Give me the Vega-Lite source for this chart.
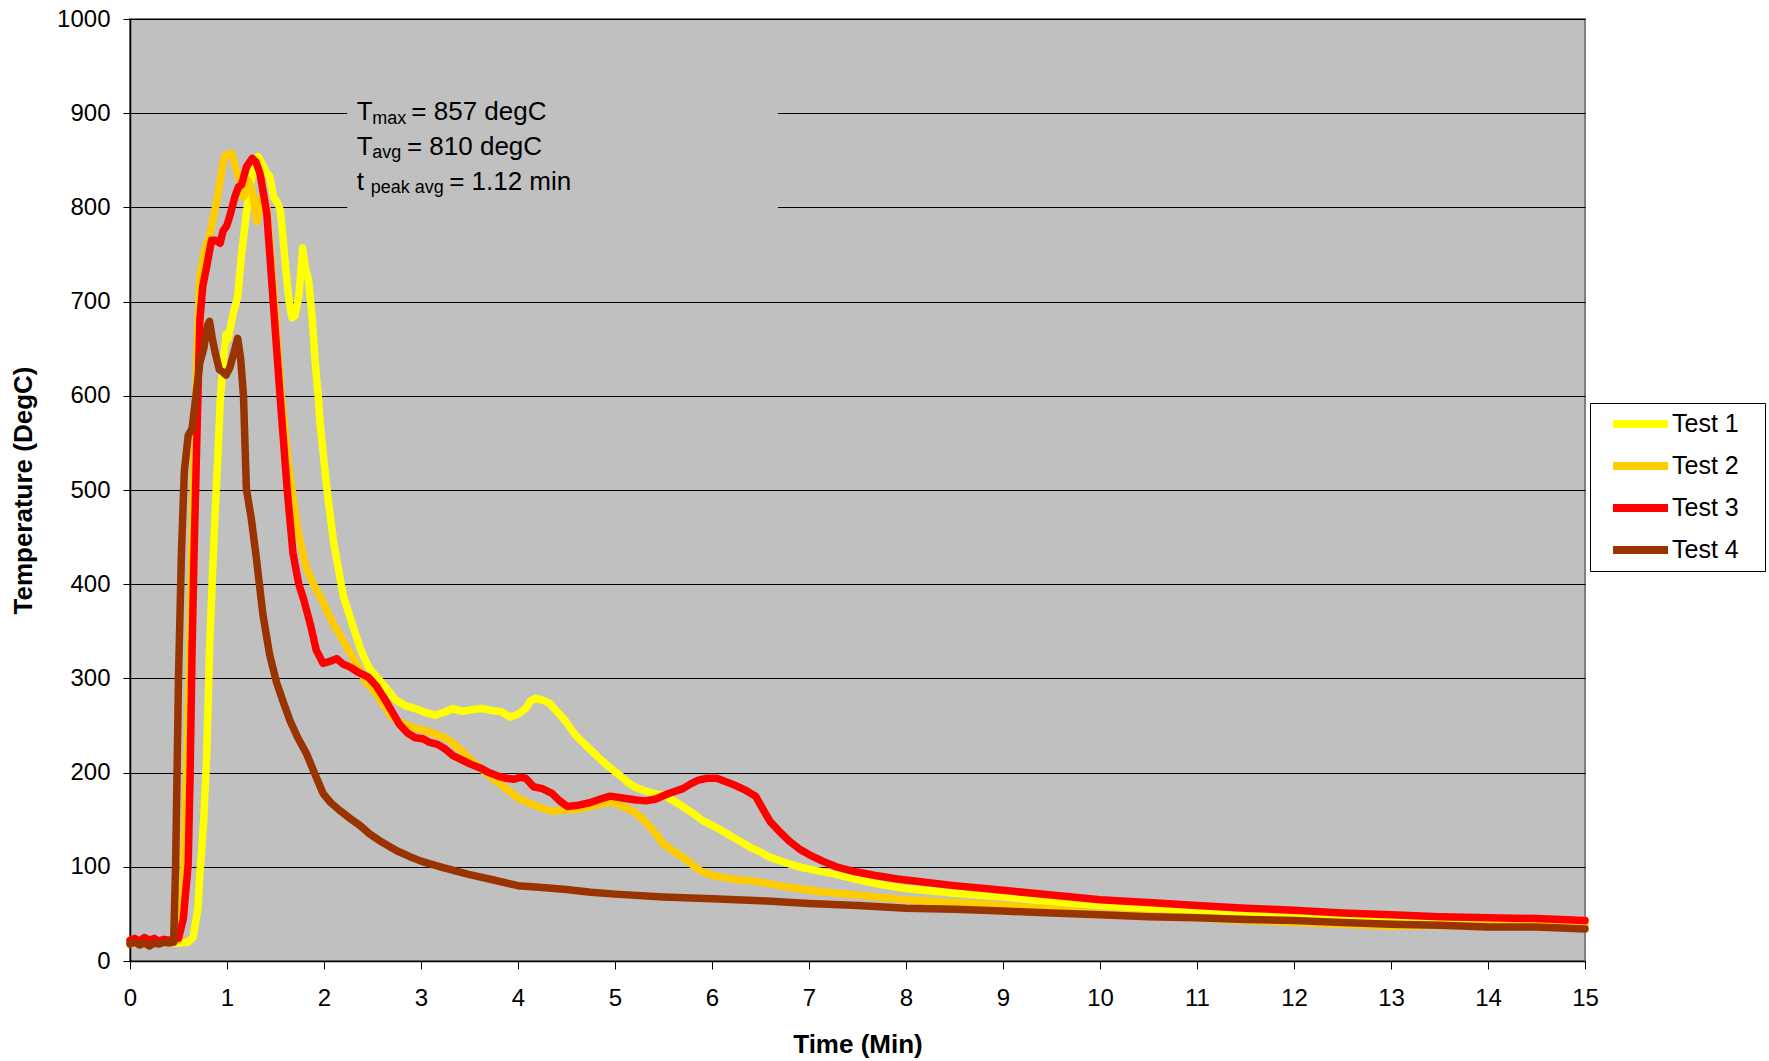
{
  "$schema": "https://vega.github.io/schema/vega-lite/v6.json",
  "width": 1455,
  "height": 942,
  "autosize": {"type": "none"},
  "padding": {"left": 130, "top": 19, "right": 184, "bottom": 100},
  "background": "white",
  "config": {
    "font": "Liberation Sans",
    "view": {"fill": "#C0C0C0", "stroke": "#808080", "strokeWidth": 2}
  },
  "datasets": {
    "temps": [
      {"test":"Test 1","t":0,"T":18},{"test":"Test 1","t":0.1,"T":19},{"test":"Test 1","t":0.2,"T":18},{"test":"Test 1","t":0.3,"T":20},{"test":"Test 1","t":0.4,"T":19},{"test":"Test 1","t":0.5,"T":19},{"test":"Test 1","t":0.6,"T":20},{"test":"Test 1","t":0.65,"T":25},{"test":"Test 1","t":0.7,"T":55},{"test":"Test 1","t":0.72,"T":91},{"test":"Test 1","t":0.76,"T":150},{"test":"Test 1","t":0.79,"T":216},{"test":"Test 1","t":0.82,"T":330},{"test":"Test 1","t":0.85,"T":410},{"test":"Test 1","t":0.88,"T":482},{"test":"Test 1","t":0.91,"T":545},{"test":"Test 1","t":0.93,"T":595},{"test":"Test 1","t":0.96,"T":635},{"test":"Test 1","t":0.99,"T":665},{"test":"Test 1","t":1.01,"T":660},{"test":"Test 1","t":1.03,"T":670},{"test":"Test 1","t":1.07,"T":690},{"test":"Test 1","t":1.11,"T":705},{"test":"Test 1","t":1.15,"T":750},{"test":"Test 1","t":1.2,"T":794},{"test":"Test 1","t":1.25,"T":830},{"test":"Test 1","t":1.32,"T":854},{"test":"Test 1","t":1.37,"T":845},{"test":"Test 1","t":1.41,"T":836},{"test":"Test 1","t":1.44,"T":833},{"test":"Test 1","t":1.48,"T":811},{"test":"Test 1","t":1.52,"T":805},{"test":"Test 1","t":1.55,"T":797},{"test":"Test 1","t":1.58,"T":765},{"test":"Test 1","t":1.6,"T":741},{"test":"Test 1","t":1.64,"T":700},{"test":"Test 1","t":1.67,"T":683},{"test":"Test 1","t":1.7,"T":685},{"test":"Test 1","t":1.74,"T":705},{"test":"Test 1","t":1.78,"T":757},{"test":"Test 1","t":1.81,"T":735},{"test":"Test 1","t":1.84,"T":723},{"test":"Test 1","t":1.88,"T":680},{"test":"Test 1","t":1.91,"T":635},{"test":"Test 1","t":1.94,"T":600},{"test":"Test 1","t":1.96,"T":571},{"test":"Test 1","t":2.0,"T":530},{"test":"Test 1","t":2.03,"T":501},{"test":"Test 1","t":2.1,"T":444},{"test":"Test 1","t":2.2,"T":387},{"test":"Test 1","t":2.3,"T":355},{"test":"Test 1","t":2.38,"T":330},{"test":"Test 1","t":2.46,"T":312},{"test":"Test 1","t":2.54,"T":302},{"test":"Test 1","t":2.64,"T":290},{"test":"Test 1","t":2.74,"T":277},{"test":"Test 1","t":2.84,"T":271},{"test":"Test 1","t":2.94,"T":268},{"test":"Test 1","t":3.04,"T":264},{"test":"Test 1","t":3.14,"T":261},{"test":"Test 1","t":3.24,"T":264},{"test":"Test 1","t":3.33,"T":268},{"test":"Test 1","t":3.43,"T":265},{"test":"Test 1","t":3.53,"T":267},{"test":"Test 1","t":3.63,"T":268},{"test":"Test 1","t":3.72,"T":266},{"test":"Test 1","t":3.82,"T":265},{"test":"Test 1","t":3.92,"T":259},{"test":"Test 1","t":4.0,"T":262},{"test":"Test 1","t":4.08,"T":268},{"test":"Test 1","t":4.13,"T":276},{"test":"Test 1","t":4.18,"T":279},{"test":"Test 1","t":4.25,"T":277},{"test":"Test 1","t":4.32,"T":274},{"test":"Test 1","t":4.4,"T":265},{"test":"Test 1","t":4.48,"T":256},{"test":"Test 1","t":4.59,"T":240},{"test":"Test 1","t":4.75,"T":224},{"test":"Test 1","t":4.85,"T":214},{"test":"Test 1","t":4.95,"T":205},{"test":"Test 1","t":5.05,"T":197},{"test":"Test 1","t":5.14,"T":189},{"test":"Test 1","t":5.22,"T":184},{"test":"Test 1","t":5.3,"T":181},{"test":"Test 1","t":5.4,"T":178},{"test":"Test 1","t":5.5,"T":176},{"test":"Test 1","t":5.6,"T":170},{"test":"Test 1","t":5.7,"T":164},{"test":"Test 1","t":5.8,"T":157},{"test":"Test 1","t":5.89,"T":150},{"test":"Test 1","t":6.0,"T":144},{"test":"Test 1","t":6.09,"T":139},{"test":"Test 1","t":6.19,"T":133},{"test":"Test 1","t":6.29,"T":127},{"test":"Test 1","t":6.39,"T":121},{"test":"Test 1","t":6.49,"T":116},{"test":"Test 1","t":6.6,"T":110},{"test":"Test 1","t":6.77,"T":104},{"test":"Test 1","t":6.9,"T":100},{"test":"Test 1","t":7.08,"T":96},{"test":"Test 1","t":7.28,"T":92},{"test":"Test 1","t":7.47,"T":87},{"test":"Test 1","t":7.7,"T":82},{"test":"Test 1","t":8.0,"T":77},{"test":"Test 1","t":8.5,"T":72},{"test":"Test 1","t":9.0,"T":68},{"test":"Test 1","t":9.5,"T":63},{"test":"Test 1","t":10.0,"T":59},{"test":"Test 1","t":10.5,"T":56},{"test":"Test 1","t":11.0,"T":54},{"test":"Test 1","t":11.5,"T":52},{"test":"Test 1","t":12.0,"T":50},{"test":"Test 1","t":12.5,"T":48},{"test":"Test 1","t":13.0,"T":47},{"test":"Test 1","t":13.5,"T":46},{"test":"Test 1","t":14.0,"T":45},{"test":"Test 1","t":14.5,"T":44},{"test":"Test 1","t":15.0,"T":43},

      {"test":"Test 2","t":0,"T":20},{"test":"Test 2","t":0.1,"T":19},{"test":"Test 2","t":0.2,"T":20},{"test":"Test 2","t":0.3,"T":19},{"test":"Test 2","t":0.4,"T":20},{"test":"Test 2","t":0.5,"T":22},{"test":"Test 2","t":0.53,"T":40},{"test":"Test 2","t":0.56,"T":120},{"test":"Test 2","t":0.6,"T":260},{"test":"Test 2","t":0.63,"T":400},{"test":"Test 2","t":0.66,"T":530},{"test":"Test 2","t":0.69,"T":640},{"test":"Test 2","t":0.72,"T":726},{"test":"Test 2","t":0.77,"T":755},{"test":"Test 2","t":0.82,"T":769},{"test":"Test 2","t":0.86,"T":790},{"test":"Test 2","t":0.89,"T":804},{"test":"Test 2","t":0.93,"T":829},{"test":"Test 2","t":0.96,"T":848},{"test":"Test 2","t":0.98,"T":855},{"test":"Test 2","t":1.02,"T":857},{"test":"Test 2","t":1.05,"T":857},{"test":"Test 2","t":1.08,"T":845},{"test":"Test 2","t":1.12,"T":833},{"test":"Test 2","t":1.17,"T":811},{"test":"Test 2","t":1.2,"T":820},{"test":"Test 2","t":1.22,"T":829},{"test":"Test 2","t":1.25,"T":820},{"test":"Test 2","t":1.27,"T":811},{"test":"Test 2","t":1.31,"T":785},{"test":"Test 2","t":1.34,"T":805},{"test":"Test 2","t":1.37,"T":815},{"test":"Test 2","t":1.41,"T":800},{"test":"Test 2","t":1.46,"T":740},{"test":"Test 2","t":1.51,"T":670},{"test":"Test 2","t":1.56,"T":600},{"test":"Test 2","t":1.62,"T":539},{"test":"Test 2","t":1.67,"T":500},{"test":"Test 2","t":1.72,"T":463},{"test":"Test 2","t":1.77,"T":438},{"test":"Test 2","t":1.82,"T":417},{"test":"Test 2","t":1.89,"T":400},{"test":"Test 2","t":1.96,"T":387},{"test":"Test 2","t":2.03,"T":372},{"test":"Test 2","t":2.1,"T":357},{"test":"Test 2","t":2.15,"T":349},{"test":"Test 2","t":2.23,"T":334},{"test":"Test 2","t":2.34,"T":314},{"test":"Test 2","t":2.44,"T":295},{"test":"Test 2","t":2.5,"T":289},{"test":"Test 2","t":2.6,"T":274},{"test":"Test 2","t":2.7,"T":259},{"test":"Test 2","t":2.78,"T":254},{"test":"Test 2","t":2.86,"T":250},{"test":"Test 2","t":2.95,"T":247},{"test":"Test 2","t":3.09,"T":243},{"test":"Test 2","t":3.17,"T":240},{"test":"Test 2","t":3.25,"T":237},{"test":"Test 2","t":3.33,"T":231},{"test":"Test 2","t":3.41,"T":224},{"test":"Test 2","t":3.51,"T":214},{"test":"Test 2","t":3.61,"T":205},{"test":"Test 2","t":3.7,"T":197},{"test":"Test 2","t":3.8,"T":189},{"test":"Test 2","t":3.9,"T":181},{"test":"Test 2","t":4.0,"T":173},{"test":"Test 2","t":4.1,"T":168},{"test":"Test 2","t":4.2,"T":164},{"test":"Test 2","t":4.35,"T":159},{"test":"Test 2","t":4.47,"T":160},{"test":"Test 2","t":4.59,"T":161},{"test":"Test 2","t":4.71,"T":163},{"test":"Test 2","t":4.83,"T":166},{"test":"Test 2","t":4.92,"T":168},{"test":"Test 2","t":4.99,"T":168},{"test":"Test 2","t":5.08,"T":164},{"test":"Test 2","t":5.19,"T":159},{"test":"Test 2","t":5.26,"T":153},{"test":"Test 2","t":5.34,"T":145},{"test":"Test 2","t":5.42,"T":135},{"test":"Test 2","t":5.5,"T":124},{"test":"Test 2","t":5.6,"T":117},{"test":"Test 2","t":5.7,"T":110},{"test":"Test 2","t":5.8,"T":102},{"test":"Test 2","t":5.89,"T":95},{"test":"Test 2","t":6.0,"T":91},{"test":"Test 2","t":6.09,"T":89},{"test":"Test 2","t":6.29,"T":86},{"test":"Test 2","t":6.49,"T":84},{"test":"Test 2","t":6.69,"T":80},{"test":"Test 2","t":6.88,"T":77},{"test":"Test 2","t":7.08,"T":74},{"test":"Test 2","t":7.28,"T":72},{"test":"Test 2","t":7.5,"T":70},{"test":"Test 2","t":7.7,"T":68},{"test":"Test 2","t":8.0,"T":65},{"test":"Test 2","t":8.5,"T":62},{"test":"Test 2","t":9.0,"T":59},{"test":"Test 2","t":9.5,"T":55},{"test":"Test 2","t":10.0,"T":50},{"test":"Test 2","t":10.5,"T":48},{"test":"Test 2","t":11.0,"T":46},{"test":"Test 2","t":11.5,"T":43},{"test":"Test 2","t":12.0,"T":41},{"test":"Test 2","t":12.5,"T":39},{"test":"Test 2","t":13.0,"T":37},{"test":"Test 2","t":13.5,"T":38},{"test":"Test 2","t":14.0,"T":37},{"test":"Test 2","t":14.5,"T":38},{"test":"Test 2","t":15.0,"T":38},

      {"test":"Test 3","t":0,"T":22},{"test":"Test 3","t":0.05,"T":24},{"test":"Test 3","t":0.1,"T":21},{"test":"Test 3","t":0.15,"T":25},{"test":"Test 3","t":0.2,"T":22},{"test":"Test 3","t":0.25,"T":24},{"test":"Test 3","t":0.3,"T":21},{"test":"Test 3","t":0.35,"T":23},{"test":"Test 3","t":0.4,"T":22},{"test":"Test 3","t":0.45,"T":23},{"test":"Test 3","t":0.5,"T":24},{"test":"Test 3","t":0.55,"T":45},{"test":"Test 3","t":0.6,"T":103},{"test":"Test 3","t":0.62,"T":200},{"test":"Test 3","t":0.64,"T":330},{"test":"Test 3","t":0.66,"T":430},{"test":"Test 3","t":0.69,"T":558},{"test":"Test 3","t":0.72,"T":680},{"test":"Test 3","t":0.75,"T":716},{"test":"Test 3","t":0.79,"T":737},{"test":"Test 3","t":0.84,"T":765},{"test":"Test 3","t":0.88,"T":765},{"test":"Test 3","t":0.93,"T":762},{"test":"Test 3","t":0.96,"T":775},{"test":"Test 3","t":1.0,"T":781},{"test":"Test 3","t":1.04,"T":795},{"test":"Test 3","t":1.08,"T":811},{"test":"Test 3","t":1.12,"T":822},{"test":"Test 3","t":1.15,"T":824},{"test":"Test 3","t":1.2,"T":843},{"test":"Test 3","t":1.26,"T":852},{"test":"Test 3","t":1.3,"T":848},{"test":"Test 3","t":1.34,"T":836},{"test":"Test 3","t":1.41,"T":794},{"test":"Test 3","t":1.46,"T":723},{"test":"Test 3","t":1.51,"T":652},{"test":"Test 3","t":1.56,"T":582},{"test":"Test 3","t":1.62,"T":501},{"test":"Test 3","t":1.68,"T":433},{"test":"Test 3","t":1.74,"T":400},{"test":"Test 3","t":1.79,"T":384},{"test":"Test 3","t":1.86,"T":357},{"test":"Test 3","t":1.92,"T":330},{"test":"Test 3","t":1.99,"T":316},{"test":"Test 3","t":2.06,"T":318},{"test":"Test 3","t":2.13,"T":321},{"test":"Test 3","t":2.2,"T":315},{"test":"Test 3","t":2.27,"T":312},{"test":"Test 3","t":2.36,"T":306},{"test":"Test 3","t":2.46,"T":301},{"test":"Test 3","t":2.54,"T":292},{"test":"Test 3","t":2.62,"T":279},{"test":"Test 3","t":2.7,"T":265},{"test":"Test 3","t":2.78,"T":251},{"test":"Test 3","t":2.86,"T":242},{"test":"Test 3","t":2.94,"T":237},{"test":"Test 3","t":3.02,"T":236},{"test":"Test 3","t":3.09,"T":232},{"test":"Test 3","t":3.17,"T":230},{"test":"Test 3","t":3.25,"T":225},{"test":"Test 3","t":3.33,"T":218},{"test":"Test 3","t":3.41,"T":214},{"test":"Test 3","t":3.51,"T":209},{"test":"Test 3","t":3.61,"T":205},{"test":"Test 3","t":3.7,"T":200},{"test":"Test 3","t":3.8,"T":196},{"test":"Test 3","t":3.88,"T":194},{"test":"Test 3","t":3.96,"T":193},{"test":"Test 3","t":4.02,"T":195},{"test":"Test 3","t":4.08,"T":194},{"test":"Test 3","t":4.16,"T":185},{"test":"Test 3","t":4.25,"T":183},{"test":"Test 3","t":4.35,"T":178},{"test":"Test 3","t":4.43,"T":170},{"test":"Test 3","t":4.51,"T":164},{"test":"Test 3","t":4.6,"T":165},{"test":"Test 3","t":4.74,"T":168},{"test":"Test 3","t":4.85,"T":172},{"test":"Test 3","t":4.95,"T":175},{"test":"Test 3","t":5.08,"T":173},{"test":"Test 3","t":5.22,"T":171},{"test":"Test 3","t":5.32,"T":170},{"test":"Test 3","t":5.42,"T":172},{"test":"Test 3","t":5.56,"T":178},{"test":"Test 3","t":5.7,"T":183},{"test":"Test 3","t":5.78,"T":188},{"test":"Test 3","t":5.86,"T":192},{"test":"Test 3","t":5.95,"T":194},{"test":"Test 3","t":6.05,"T":194},{"test":"Test 3","t":6.15,"T":190},{"test":"Test 3","t":6.25,"T":186},{"test":"Test 3","t":6.35,"T":181},{"test":"Test 3","t":6.45,"T":175},{"test":"Test 3","t":6.52,"T":162},{"test":"Test 3","t":6.6,"T":148},{"test":"Test 3","t":6.7,"T":137},{"test":"Test 3","t":6.8,"T":127},{"test":"Test 3","t":6.9,"T":119},{"test":"Test 3","t":7.0,"T":113},{"test":"Test 3","t":7.14,"T":106},{"test":"Test 3","t":7.28,"T":100},{"test":"Test 3","t":7.47,"T":95},{"test":"Test 3","t":7.67,"T":91},{"test":"Test 3","t":7.91,"T":87},{"test":"Test 3","t":8.0,"T":86},{"test":"Test 3","t":8.5,"T":80},{"test":"Test 3","t":9.0,"T":75},{"test":"Test 3","t":9.5,"T":70},{"test":"Test 3","t":10.0,"T":65},{"test":"Test 3","t":10.5,"T":62},{"test":"Test 3","t":11.0,"T":59},{"test":"Test 3","t":11.5,"T":56},{"test":"Test 3","t":12.0,"T":54},{"test":"Test 3","t":12.5,"T":51},{"test":"Test 3","t":13.0,"T":49},{"test":"Test 3","t":13.5,"T":47},{"test":"Test 3","t":14.0,"T":46},{"test":"Test 3","t":14.5,"T":45},{"test":"Test 3","t":15.0,"T":43},

      {"test":"Test 4","t":0,"T":18},{"test":"Test 4","t":0.05,"T":20},{"test":"Test 4","t":0.1,"T":17},{"test":"Test 4","t":0.15,"T":19},{"test":"Test 4","t":0.2,"T":16},{"test":"Test 4","t":0.25,"T":19},{"test":"Test 4","t":0.3,"T":18},{"test":"Test 4","t":0.35,"T":20},{"test":"Test 4","t":0.4,"T":19},{"test":"Test 4","t":0.45,"T":20},{"test":"Test 4","t":0.47,"T":100},{"test":"Test 4","t":0.5,"T":300},{"test":"Test 4","t":0.53,"T":432},{"test":"Test 4","t":0.56,"T":520},{"test":"Test 4","t":0.6,"T":558},{"test":"Test 4","t":0.64,"T":565},{"test":"Test 4","t":0.68,"T":600},{"test":"Test 4","t":0.72,"T":635},{"test":"Test 4","t":0.76,"T":650},{"test":"Test 4","t":0.8,"T":675},{"test":"Test 4","t":0.82,"T":679},{"test":"Test 4","t":0.85,"T":660},{"test":"Test 4","t":0.88,"T":645},{"test":"Test 4","t":0.92,"T":628},{"test":"Test 4","t":0.96,"T":625},{"test":"Test 4","t":0.99,"T":622},{"test":"Test 4","t":1.03,"T":630},{"test":"Test 4","t":1.07,"T":645},{"test":"Test 4","t":1.11,"T":661},{"test":"Test 4","t":1.14,"T":640},{"test":"Test 4","t":1.17,"T":600},{"test":"Test 4","t":1.2,"T":501},{"test":"Test 4","t":1.25,"T":470},{"test":"Test 4","t":1.3,"T":430},{"test":"Test 4","t":1.37,"T":368},{"test":"Test 4","t":1.44,"T":325},{"test":"Test 4","t":1.51,"T":296},{"test":"Test 4","t":1.58,"T":275},{"test":"Test 4","t":1.65,"T":255},{"test":"Test 4","t":1.73,"T":237},{"test":"Test 4","t":1.82,"T":220},{"test":"Test 4","t":1.9,"T":200},{"test":"Test 4","t":1.99,"T":178},{"test":"Test 4","t":2.07,"T":168},{"test":"Test 4","t":2.16,"T":160},{"test":"Test 4","t":2.26,"T":152},{"test":"Test 4","t":2.37,"T":144},{"test":"Test 4","t":2.47,"T":135},{"test":"Test 4","t":2.6,"T":126},{"test":"Test 4","t":2.75,"T":117},{"test":"Test 4","t":2.88,"T":111},{"test":"Test 4","t":3.0,"T":106},{"test":"Test 4","t":3.2,"T":100},{"test":"Test 4","t":3.49,"T":92},{"test":"Test 4","t":3.75,"T":86},{"test":"Test 4","t":4.0,"T":80},{"test":"Test 4","t":4.25,"T":78},{"test":"Test 4","t":4.5,"T":76},{"test":"Test 4","t":4.75,"T":73},{"test":"Test 4","t":5.0,"T":71},{"test":"Test 4","t":5.5,"T":68},{"test":"Test 4","t":6.0,"T":66},{"test":"Test 4","t":6.5,"T":64},{"test":"Test 4","t":7.0,"T":61},{"test":"Test 4","t":7.5,"T":59},{"test":"Test 4","t":8.0,"T":56},{"test":"Test 4","t":8.5,"T":55},{"test":"Test 4","t":9.0,"T":53},{"test":"Test 4","t":9.5,"T":51},{"test":"Test 4","t":10.0,"T":49},{"test":"Test 4","t":10.5,"T":47},{"test":"Test 4","t":11.0,"T":46},{"test":"Test 4","t":11.5,"T":44},{"test":"Test 4","t":12.0,"T":43},{"test":"Test 4","t":12.5,"T":41},{"test":"Test 4","t":13.0,"T":39},{"test":"Test 4","t":13.5,"T":38},{"test":"Test 4","t":14.0,"T":36},{"test":"Test 4","t":14.5,"T":36},{"test":"Test 4","t":15.0,"T":34}
    ],
    "one": [{}]
  },
  "layer": [
    {
      "data": {"name": "one"},
      "mark": {"type": "rect", "fill": "#C0C0C0"},
      "encoding": {
        "x": {"datum": 2.24, "type": "quantitative", "scale": {"domain": [0, 15]}},
        "x2": {"datum": 6.68},
        "y": {"datum": 770, "type": "quantitative", "scale": {"domain": [0, 1000]}},
        "y2": {"datum": 940}
      }
    },
    {
      "data": {"name": "temps"},
      "mark": {"type": "line", "strokeWidth": 7.5, "strokeJoin": "round", "strokeCap": "round"},
      "encoding": {
        "x": {
          "field": "t", "type": "quantitative",
          "scale": {"domain": [0, 15], "nice": false, "zero": false},
          "axis": {
            "values": [0,1,2,3,4,5,6,7,8,9,10,11,12,13,14,15], "format": "d", "labelFlush": false,
            "grid": false, "domainColor": "black", "domainWidth": 1.5,
            "tickColor": "black", "tickSize": 8, "tickWidth": 1,
            "labelFontSize": 24, "labelColor": "black", "labelPadding": 17,
            "title": "Time (Min)", "titleFontSize": 26, "titleFontWeight": "bold", "titleColor": "black",
            "titleBaseline": "alphabetic", "titleY": 91
          }
        },
        "y": {
          "field": "T", "type": "quantitative",
          "scale": {"domain": [0, 1000], "nice": false},
          "axis": {
            "values": [0,100,200,300,400,500,600,700,800,900,1000], "format": "d", "labelFlush": false,
            "grid": true, "gridColor": "black", "gridWidth": 1, "gridOpacity": 1,
            "domainColor": "black", "domainWidth": 1.5,
            "tickColor": "black", "tickSize": 7, "tickWidth": 1,
            "labelFontSize": 24, "labelColor": "black", "labelPadding": 13,
            "title": "Temperature (DegC)", "titleFontSize": 26, "titleFontWeight": "bold", "titleColor": "black",
            "titleAngle": 270, "titleBaseline": "alphabetic", "titleAlign": "center", "titleX": -99, "titleY": 471
          }
        },
        "color": {
          "field": "test", "type": "nominal",
          "scale": {"domain": ["Test 1","Test 2","Test 3","Test 4"], "range": ["#FFFF00","#FFCC00","#FF0000","#993300"]},
          "legend": {
            "title": null, "orient": "none", "legendX": 1460, "legendY": 384,
            "fillColor": "white", "strokeColor": "black", "padding": 8,
            "symbolType": "stroke", "symbolSize": 3025, "symbolStrokeWidth": 8, "symbolOffset": 11,
            "clipHeight": 26, "rowPadding": 16,
            "labelFontSize": 25, "labelColor": "black", "labelOffset": 0,
            "labelExpr": "datum.label + '\u2800'"
          }
        },
        "order": {"field": "t", "type": "quantitative"}
      }
    },
    {
      "data": {"name": "one"},
      "mark": {"type": "text", "text": "T", "align": "left", "baseline": "alphabetic", "fontSize": 26, "color": "black"},
      "encoding": {"x": {"datum": 2.337, "type": "quantitative"}, "y": {"datum": 893, "type": "quantitative"}}
    },
    {
      "data": {"name": "one"},
      "mark": {"type": "text", "text": "max", "align": "left", "baseline": "alphabetic", "fontSize": 18, "color": "black"},
      "encoding": {"x": {"datum": 2.498, "type": "quantitative"}, "y": {"datum": 889, "type": "quantitative"}}
    },
    {
      "data": {"name": "one"},
      "mark": {"type": "text", "text": "= 857 degC", "align": "left", "baseline": "alphabetic", "fontSize": 26, "color": "black"},
      "encoding": {"x": {"datum": 2.9, "type": "quantitative"}, "y": {"datum": 893, "type": "quantitative"}}
    },
    {
      "data": {"name": "one"},
      "mark": {"type": "text", "text": "T", "align": "left", "baseline": "alphabetic", "fontSize": 26, "color": "black"},
      "encoding": {"x": {"datum": 2.337, "type": "quantitative"}, "y": {"datum": 855.5, "type": "quantitative"}}
    },
    {
      "data": {"name": "one"},
      "mark": {"type": "text", "text": "avg", "align": "left", "baseline": "alphabetic", "fontSize": 18, "color": "black"},
      "encoding": {"x": {"datum": 2.498, "type": "quantitative"}, "y": {"datum": 852, "type": "quantitative"}}
    },
    {
      "data": {"name": "one"},
      "mark": {"type": "text", "text": "= 810 degC", "align": "left", "baseline": "alphabetic", "fontSize": 26, "color": "black"},
      "encoding": {"x": {"datum": 2.855, "type": "quantitative"}, "y": {"datum": 855.5, "type": "quantitative"}}
    },
    {
      "data": {"name": "one"},
      "mark": {"type": "text", "text": "t", "align": "left", "baseline": "alphabetic", "fontSize": 26, "color": "black"},
      "encoding": {"x": {"datum": 2.337, "type": "quantitative"}, "y": {"datum": 818.5, "type": "quantitative"}}
    },
    {
      "data": {"name": "one"},
      "mark": {"type": "text", "text": "peak avg", "align": "left", "baseline": "alphabetic", "fontSize": 18, "color": "black"},
      "encoding": {"x": {"datum": 2.481, "type": "quantitative"}, "y": {"datum": 815, "type": "quantitative"}}
    },
    {
      "data": {"name": "one"},
      "mark": {"type": "text", "text": "= 1.12 min", "align": "left", "baseline": "alphabetic", "fontSize": 26, "color": "black"},
      "encoding": {"x": {"datum": 3.29, "type": "quantitative"}, "y": {"datum": 818.5, "type": "quantitative"}}
    }
  ]
}
